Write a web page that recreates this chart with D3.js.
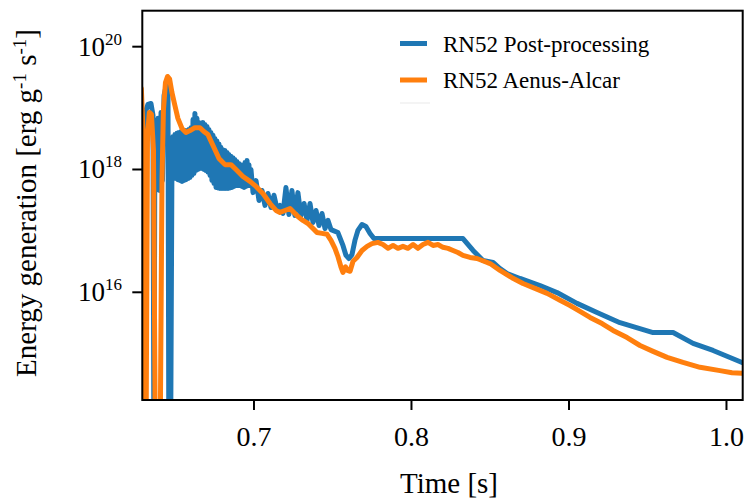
<!DOCTYPE html>
<html>
<head>
<meta charset="utf-8">
<script src="https://cdn.jsdelivr.net/npm/d3@7"></script>
<style>
  body { margin: 0; background: #fff; }
  svg, svg text, svg tspan { font-family: "Liberation Serif", "Times New Roman", Times, serif; }
</style>
</head>
<body>
<svg width="746" height="502" font-family="Liberation Serif, serif"></svg>
<script>
// Post-processing run (blue)
const blueTime = [
  0.6295, 0.6305, 0.6314, 0.6327, 0.6346, 0.6359, 0.6365, 0.6371, 0.6381, 0.6391, 0.6400, 0.6410, 0.6419,
  0.6429, 0.6444, 0.6454, 0.6460, 0.6470,
  0.6479, 0.6485, 0.6492, 0.6498, 0.6505, 0.6511, 0.6517, 0.6524, 0.6530, 0.6536, 0.6543, 0.6549, 0.6556, 0.6562,
  0.6568, 0.6575, 0.6581, 0.6587, 0.6594, 0.6600, 0.6606, 0.6613, 0.6619, 0.6625, 0.6632, 0.6638, 0.6644, 0.6651,
  0.6657, 0.6663, 0.6670, 0.6676, 0.6682, 0.6689, 0.6695, 0.6702, 0.6708, 0.6714, 0.6721, 0.6727, 0.6733, 0.6740,
  0.6746, 0.6752, 0.6759, 0.6765, 0.6771, 0.6778, 0.6784, 0.6790, 0.6797, 0.6803, 0.6810, 0.6816, 0.6822, 0.6829,
  0.6835, 0.6841, 0.6848, 0.6854, 0.6860, 0.6867, 0.6873, 0.6879, 0.6886, 0.6892, 0.6898, 0.6905, 0.6911, 0.6917,
  0.6924, 0.6930, 0.6937, 0.6943, 0.6949, 0.6956, 0.6962, 0.6968, 0.6975, 0.6981,
  0.6994, 0.7013, 0.7032, 0.7051, 0.7070, 0.7089, 0.7108, 0.7127, 0.7146, 0.7165, 0.7184, 0.7203, 0.7222, 0.7241,
  0.7260, 0.7279, 0.7298, 0.7318, 0.7337, 0.7356, 0.7375, 0.7394, 0.7413, 0.7432, 0.7451, 0.7470,
  0.7489, 0.7533, 0.7565, 0.7584, 0.7603, 0.7622, 0.7641, 0.7660, 0.7686, 0.7711, 0.7737, 0.7762,
  0.8327, 0.8391, 0.8454, 0.8518, 0.8562, 0.8607, 0.8689, 0.8816, 0.8924, 0.9051, 0.9178, 0.9324,
  0.9534, 0.9661, 0.9788, 0.9915, 1.0099
];
const blueEnergy = [
  1e13, 5.2e18, 9.1e18, 1.15e19, 1.19e19, 7.6e18, 1e13, 6.3e18, 5.5e17, 6.8e18, 4.55e17, 8.5e18, 6.6e17,
  1.6e19, 2.4e19, 2.4e19, 1e13, 1e13,
  8.9e17, 3.4e18, 7.4e17, 3.7e18, 7.1e17, 3.9e18, 6.8e17, 4.0e18, 6.6e17, 4.1e18, 6.4e17, 4.2e18, 6.6e17, 4.3e18,
  6.8e17, 4.3e18, 7.1e17, 4.5e18, 7.4e17, 4.8e18, 8.0e17, 6.5e18, 8.6e17, 8.2e18, 9.6e17, 6.8e18, 1.0e18, 5.8e18,
  1.04e18, 5.6e18, 1.04e18, 5.8e18, 1.0e18, 5.4e18, 9.6e17, 5.0e18, 9.0e17, 4.5e18, 8.0e17, 4.0e18, 6.6e17, 3.6e18,
  5.9e17, 3.2e18, 5.1e17, 2.9e18, 5.0e17, 2.6e18, 4.9e17, 2.3e18, 4.9e17, 2.1e18, 4.9e17, 2.04e18, 4.9e17, 1.9e18,
  4.9e17, 1.75e18, 5.0e17, 1.65e18, 5.1e17, 1.55e18, 5.3e17, 1.45e18, 5.5e17, 1.35e18, 5.5e17, 1.25e18, 5.5e17, 1.2e18,
  5.3e17, 1.16e18, 5.1e17, 1.3e18, 5.3e17, 1.4e18, 5.5e17, 1.2e18, 5.5e17, 1.0e18,
  4.2e17, 6.6e17, 3.13e17, 4.55e17, 2.6e17, 4.07e17, 2.4e17, 3.8e17, 2.32e17, 2.6e17, 1.92e17, 5.1e17, 1.85e17, 4.55e17,
  1.78e17, 4.2e17, 1.78e17, 2.79e17, 1.48e17, 2.79e17, 1.37e17, 2.15e17, 1.22e17, 1.92e17, 1.09e17, 1.48e17,
  1.05e17, 9.4e16, 5.8e16, 4.0e16, 3.55e16, 4.1e16, 7.0e16, 1.02e17, 1.27e17, 1.18e17, 9.1e16, 7.5e16,
  7.5e16, 4.8e16, 3.3e16, 3.06e16, 2.44e16, 2.02e16, 1.68e16, 1.29e16, 9.9e15, 6.6e15, 4.7e15, 3.2e15,
  2.21e15, 2.21e15, 1.47e15, 1.13e15, 7.2e14
];

// Aenus-Alcar run (orange)
const orangeTime = [
  0.6285, 0.6298, 0.6305, 0.6314, 0.6324, 0.6336, 0.6349, 0.6362, 0.6375, 0.6403, 0.6416, 0.6425, 0.6438, 0.6451,
  0.6464, 0.6479, 0.6498, 0.6517, 0.6543, 0.6568, 0.6594, 0.6625, 0.6657, 0.6682, 0.6708, 0.6740, 0.6778, 0.6816,
  0.6854, 0.6886, 0.6930, 0.6975, 0.7013, 0.7057, 0.7102, 0.7140, 0.7165, 0.7197, 0.7229, 0.7254, 0.7279, 0.7311,
  0.7343, 0.7375, 0.7400, 0.7432, 0.7464, 0.7489, 0.7514, 0.7533, 0.7552, 0.7565, 0.7581, 0.7594, 0.7610, 0.7629,
  0.7654, 0.7686, 0.7718, 0.7749, 0.7787, 0.7819, 0.7851, 0.7883, 0.7914, 0.7946, 0.7978, 0.8010, 0.8041, 0.8073,
  0.8105, 0.8137, 0.8168, 0.8200, 0.8232, 0.8264, 0.8295, 0.8327, 0.8372, 0.8416, 0.8461, 0.8499, 0.8562, 0.8638,
  0.8708, 0.8784, 0.8861, 0.8943, 0.9007, 0.9070, 0.9134, 0.9210, 0.9280, 0.9369, 0.9451, 0.9534, 0.9623, 0.9724,
  0.9832, 0.9959, 1.0035, 1.0099
];
const orangeEnergy = [
  2.08e19, 2.96e18, 1e13, 1e13, 3.58e18, 8.5e18, 7.9e18, 2.04e18, 1e13, 1e13, 6.6e17, 9.1e18, 2.6e19, 3.27e19,
  3.0e19, 1.8e19, 1.1e19, 6.8e18, 4.65e18, 4.0e18, 4.3e18, 4.8e18, 4.8e18, 4.15e18, 3.7e18, 2.46e18, 1.51e18, 1.2e18,
  1.2e18, 1.0e18, 7.7e17, 6.4e17, 5.3e17, 4.07e17, 2.79e17, 2.15e17, 2.0e17, 2.15e17, 2.32e17, 2.0e17, 1.72e17, 1.48e17,
  1.32e17, 1.09e17, 9.4e16, 9.1e16, 8.8e16, 7.0e16, 5.2e16, 3.83e16, 2.6e16, 2.1e16, 2.6e16, 2.27e16, 2.2e16, 3.2e16,
  3.69e16, 4.8e16, 5.6e16, 6.2e16, 6.5e16, 6.0e16, 5.2e16, 5.8e16, 5.2e16, 5.6e16, 5.2e16, 6.0e16, 5.2e16, 6.0e16,
  6.5e16, 5.8e16, 6.0e16, 5.4e16, 5.2e16, 4.8e16, 4.45e16, 4.0e16, 3.69e16, 3.55e16, 3.2e16, 2.94e16, 2.27e16, 1.73e16,
  1.39e16, 1.16e16, 9.6e15, 7.4e15, 6.1e15, 4.9e15, 3.9e15, 3.1e15, 2.39e15, 1.83e15, 1.36e15, 1.09e15, 8.7e14, 7.2e14,
  6.0e14, 5.3e14, 4.9e14, 4.8e14
];

const seriesNames = ['RN52 Post-processing', 'RN52 Aenus-Alcar', ''];
const seriesColors = ['#1f77b4', '#ff7f0e', '#f0f0f0'];
const xTicks = [0.7, 0.8, 0.9, 1.0];
const yTickExps = [16, 18, 20];

const svg = d3.select('svg');
const box = { left: 142.3, right: 742.7, top: 10.7, bottom: 400 };
const serif = '"Liberation Serif", "Times New Roman", serif';

const x = d3.scaleLinear().domain([0.6291, 1.0103]).range([box.left, box.right]);
const y = d3.scaleLog().domain([Math.pow(10, 14.246), Math.pow(10, 20.586)]).range([box.bottom, box.top]);

// clip the lines to the axes box
svg.append('clipPath').attr('id', 'plot')
  .append('rect')
  .attr('x', box.left).attr('y', box.top)
  .attr('width', box.right - box.left).attr('height', box.bottom - box.top);

const line = d3.line()
  .x(d => x(d[0]))
  .y(d => y(d[1]));

const blueData = blueTime.map((t, i) => [t, blueEnergy[i]]);
const orangeData = orangeTime.map((t, i) => [t, orangeEnergy[i]]);

[blueData, orangeData].forEach((data, idx) => {
  svg.append('path')
    .attr('clip-path', 'url(#plot)')
    .attr('d', line(data))
    .attr('fill', 'none')
    .attr('stroke', seriesColors[idx])
    .attr('stroke-width', 5)
    .attr('stroke-linejoin', 'round')
    .attr('stroke-linecap', 'round');
});

// x ticks
xTicks.forEach(t => {
  svg.append('line')
    .attr('x1', x(t)).attr('x2', x(t))
    .attr('y1', box.bottom).attr('y2', box.bottom + 10)
    .attr('stroke', '#000').attr('stroke-width', 2);
  svg.append('text')
    .attr('x', x(t)).attr('y', box.bottom + 46)
    .attr('text-anchor', 'middle')
    .style('font-family', serif)
    .attr('font-size', 28)
    .text(d3.format('.1f')(t));
});

// y ticks (10^n)
yTickExps.forEach(e => {
  const yy = y(Math.pow(10, e));
  svg.append('line')
    .attr('x1', box.left - 10).attr('x2', box.left)
    .attr('y1', yy).attr('y2', yy)
    .attr('stroke', '#000').attr('stroke-width', 2);
  const lab = svg.append('text')
    .attr('x', 122).attr('y', yy + 9)
    .attr('text-anchor', 'end')
    .style('font-family', serif)
    .attr('font-size', 27);
  lab.append('tspan').text('10');
  lab.append('tspan').attr('font-size', 17).attr('dy', -11).text(e);
});

// frame
svg.append('rect')
  .attr('x', box.left).attr('y', box.top)
  .attr('width', box.right - box.left).attr('height', box.bottom - box.top)
  .attr('fill', 'none').attr('stroke', '#000').attr('stroke-width', 2);

// axis labels
svg.append('text')
  .attr('x', 449).attr('y', 493)
  .attr('text-anchor', 'middle')
  .style('font-family', serif)
  .attr('font-size', 29)
  .text('Time [s]');

const ylab = svg.append('text')
  .attr('transform', 'translate(36,203) rotate(-90)')
  .attr('text-anchor', 'middle')
  .style('font-family', serif)
  .attr('font-size', 29);
ylab.append('tspan').text('Energy generation [erg g');
ylab.append('tspan').attr('font-size', 19).attr('dy', -10).text('-1');
ylab.append('tspan').attr('dy', 10).text(' s');
ylab.append('tspan').attr('font-size', 19).attr('dy', -10).text('-1');
ylab.append('tspan').attr('dy', 10).text(']');

// legend
const legendY = [43.5, 80, 103];
seriesNames.forEach((name, i) => {
  svg.append('line')
    .attr('x1', 400).attr('x2', i === 2 ? 430 : 427)
    .attr('y1', legendY[i]).attr('y2', legendY[i])
    .attr('stroke', seriesColors[i])
    .attr('stroke-width', i === 2 ? 1.5 : 5);
  if (name) {
    svg.append('text')
      .attr('x', 443).attr('y', legendY[i] + 8)
      .style('font-family', serif)
      .attr('font-size', 23)
      .text(name);
  }
});
</script>
</body>
</html>
